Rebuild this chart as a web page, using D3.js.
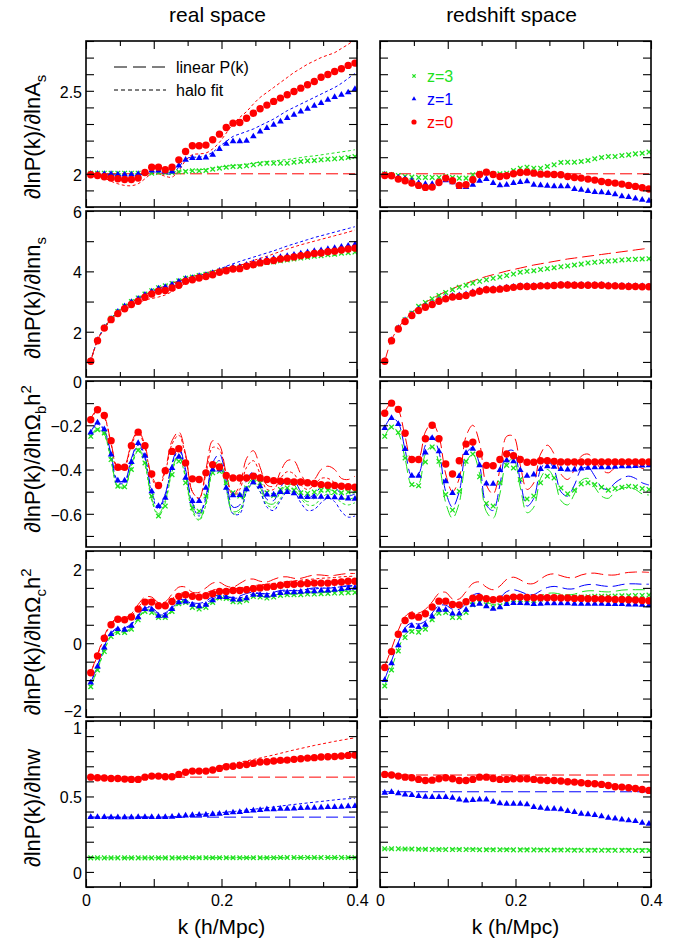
<!DOCTYPE html>
<html>
<head>
<meta charset="utf-8">
<script src="https://cdn.jsdelivr.net/npm/d3@7"></script>
<style>
  body { margin: 0; background: #fff; }
  svg { font-family: 'Liberation Sans', Arial, Helvetica, sans-serif; }
</style>
</head>
<body>
<svg id="chart" width="687" height="939"></svg>
<script>
// ---- data ----
const kPts = [
  0.007,0.017,0.027,0.037,0.047,0.057,0.067,0.077,0.087,0.097,
  0.107,0.117,0.127,0.137,0.147,0.157,0.167,0.177,0.187,0.197,
  0.207,0.217,0.227,0.237,0.247,0.257,0.267,0.277,0.287,0.297,
  0.307,0.317,0.327,0.337,0.347,0.357,0.367,0.377,0.387,0.397]
const kFlat = [0.003, 0.4]

// dlnP/dlnAs
const asRealZ0 = [
  1.994,1.990,1.982,1.974,1.970,1.966,1.966,1.974,2.008,2.040,
  2.040,2.024,2.040,2.084,2.134,2.169,2.169,2.173,2.205,2.239,
  2.279,2.305,2.309,2.335,2.365,2.392,2.414,2.436,2.456,2.476,
  2.496,2.516,2.536,2.556,2.582,2.598,2.616,2.633,2.653,2.667]
const asRealZ1 = [
  2.000,2.000,1.998,1.998,1.996,1.996,1.996,1.998,2.004,2.020,
  2.020,2.014,2.014,2.050,2.084,2.094,2.094,2.098,2.114,2.149,
  2.181,2.195,2.195,2.199,2.225,2.255,2.275,2.295,2.315,2.335,
  2.355,2.375,2.392,2.410,2.426,2.446,2.462,2.476,2.490,2.510]
const asRealZ3 = [
  2.004,2.004,2.004,2.004,2.004,2.004,2.004,2.004,2.004,2.004,
  2.008,2.008,2.008,2.012,2.014,2.018,2.018,2.020,2.028,2.034,
  2.040,2.044,2.044,2.048,2.054,2.060,2.064,2.064,2.064,2.064,
  2.070,2.074,2.078,2.080,2.084,2.088,2.090,2.094,2.098,2.104]
const asHaloZ0 = [
  2.000,1.990,1.975,1.955,1.940,1.930,1.928,1.940,1.970,2.000,
  2.000,1.985,1.980,2.020,2.080,2.115,2.120,2.125,2.150,2.190,
  2.245,2.300,2.340,2.375,2.420,2.460,2.490,2.520,2.550,2.580,
  2.610,2.635,2.660,2.680,2.700,2.715,2.730,2.755,2.780,2.810]
const asHaloZ1 = [
  2.000,2.000,1.998,1.995,1.992,1.990,1.990,1.993,2.000,2.010,
  2.010,2.000,2.000,2.040,2.090,2.100,2.100,2.110,2.130,2.165,
  2.195,2.225,2.240,2.255,2.270,2.290,2.310,2.330,2.355,2.380,
  2.400,2.420,2.440,2.460,2.480,2.500,2.520,2.545,2.575,2.605]
const asHaloZ3 = [
  2.000,2.000,2.000,2.000,2.000,2.000,2.000,2.000,2.000,2.002,
  2.006,2.008,2.010,2.014,2.018,2.022,2.024,2.028,2.034,2.040,
  2.046,2.050,2.054,2.058,2.064,2.070,2.074,2.078,2.082,2.086,
  2.092,2.098,2.104,2.108,2.114,2.120,2.126,2.132,2.138,2.145]
const asRedZ0 = [
  1.990,1.988,1.968,1.958,1.944,1.930,1.918,1.920,1.948,1.974,
  1.958,1.930,1.934,1.964,1.996,2.010,1.996,1.984,1.988,2.000,
  2.008,2.010,2.004,1.998,1.998,1.996,1.994,1.984,1.978,1.974,
  1.968,1.962,1.954,1.948,1.944,1.938,1.930,1.924,1.916,1.908]
const asRedZ1 = [
  1.996,1.990,1.978,1.968,1.958,1.944,1.938,1.938,1.948,1.960,
  1.948,1.920,1.920,1.934,1.958,1.968,1.944,1.930,1.934,1.944,
  1.950,1.954,1.934,1.930,1.928,1.924,1.924,1.924,1.908,1.904,
  1.896,1.890,1.888,1.884,1.876,1.864,1.860,1.851,1.843,1.837]
const asRedZ3 = [
  2.000,1.994,1.990,1.984,1.980,1.978,1.978,1.978,1.978,1.984,
  1.978,1.974,1.974,1.994,2.004,2.008,2.000,2.000,2.004,2.020,
  2.034,2.040,2.034,2.034,2.044,2.054,2.068,2.070,2.070,2.074,
  2.080,2.090,2.098,2.104,2.104,2.110,2.114,2.120,2.124,2.131]
const asLinear = [2, 2]

// dlnP/dlnns
const nsRealZ0 = [
  1.02,1.70,2.12,2.40,2.60,2.76,2.90,3.01,3.14,3.25,
  3.34,3.37,3.45,3.54,3.67,3.72,3.78,3.83,3.89,3.97,
  4.02,4.08,4.09,4.17,4.22,4.28,4.33,4.36,4.41,4.44,
  4.48,4.52,4.55,4.59,4.61,4.65,4.67,4.71,4.74,4.77]
const nsRealZ1 = [
  1.04,1.72,2.14,2.43,2.66,2.84,2.98,3.09,3.22,3.33,
  3.43,3.48,3.56,3.66,3.75,3.78,3.84,3.88,3.94,4.02,
  4.07,4.13,4.15,4.22,4.28,4.34,4.39,4.42,4.47,4.51,
  4.55,4.59,4.63,4.67,4.70,4.74,4.77,4.81,4.85,4.89]
const nsRealZ3 = [
  1.04,1.72,2.15,2.45,2.67,2.85,3.00,3.12,3.25,3.36,
  3.46,3.52,3.60,3.69,3.77,3.81,3.86,3.90,3.95,4.01,
  4.05,4.10,4.12,4.17,4.21,4.25,4.29,4.31,4.35,4.38,
  4.41,4.44,4.47,4.50,4.52,4.55,4.57,4.60,4.62,4.64]
const nsLinear = [
  1.02,1.73,2.12,2.42,2.64,2.82,2.97,3.10,3.22,3.33,
  3.43,3.52,3.60,3.68,3.76,3.83,3.89,3.95,4.01,4.06,
  4.11,4.16,4.21,4.25,4.29,4.33,4.37,4.41,4.44,4.47,
  4.50,4.53,4.56,4.59,4.62,4.65,4.68,4.71,4.74,4.77]
const nsHaloZ0 = [
  1.02,1.70,2.10,2.38,2.58,2.72,2.84,2.95,3.05,3.10,
  3.15,3.22,3.33,3.45,3.62,3.72,3.76,3.80,3.87,3.97,
  4.06,4.13,4.20,4.28,4.36,4.43,4.50,4.58,4.66,4.74,
  4.81,4.88,4.94,5.00,5.06,5.12,5.18,5.24,5.30,5.37]
const nsHaloZ1 = [
  1.04,1.72,2.14,2.43,2.66,2.84,2.98,3.10,3.22,3.33,
  3.42,3.48,3.56,3.65,3.74,3.80,3.86,3.92,3.99,4.07,
  4.17,4.25,4.33,4.40,4.47,4.54,4.61,4.68,4.76,4.84,
  4.91,4.98,5.05,5.12,5.18,5.24,5.30,5.36,5.42,5.48]
const nsHaloZ3 = [
  1.04,1.72,2.15,2.45,2.67,2.85,3.00,3.12,3.24,3.35,
  3.45,3.52,3.60,3.69,3.77,3.82,3.87,3.92,3.97,4.03,
  4.08,4.13,4.16,4.21,4.26,4.30,4.34,4.37,4.41,4.44,
  4.47,4.50,4.53,4.56,4.59,4.62,4.64,4.67,4.69,4.71]
const nsRedZ0 = [
  1.02,1.70,2.09,2.34,2.54,2.70,2.81,2.90,3.01,3.09,
  3.15,3.17,3.20,3.28,3.34,3.39,3.39,3.41,3.44,3.47,
  3.50,3.50,3.50,3.52,3.52,3.53,3.55,3.55,3.54,3.54,
  3.54,3.54,3.54,3.52,3.52,3.51,3.50,3.50,3.49,3.49]
const nsRedZ1 = [
  1.03,1.72,2.12,2.38,2.58,2.74,2.85,2.94,3.05,3.13,
  3.19,3.21,3.24,3.31,3.37,3.41,3.42,3.44,3.46,3.49,
  3.51,3.52,3.52,3.53,3.54,3.54,3.56,3.56,3.55,3.55,
  3.55,3.55,3.55,3.54,3.53,3.52,3.52,3.51,3.51,3.50]
const nsRedZ3 = [
  1.02,1.70,2.12,2.40,2.62,2.84,2.97,3.09,3.20,3.30,
  3.39,3.47,3.54,3.61,3.67,3.72,3.77,3.81,3.86,3.91,
  3.97,4.00,4.02,4.06,4.09,4.12,4.15,4.18,4.21,4.24,
  4.28,4.30,4.32,4.34,4.35,4.38,4.39,4.40,4.41,4.42]

// dlnP/dln(Omega_b h^2)
const obRealZ0 = [
  -0.175,-0.130,-0.156,-0.270,-0.390,-0.390,-0.292,-0.231,-0.292,-0.420,
  -0.472,-0.405,-0.318,-0.306,-0.370,-0.442,-0.445,-0.415,-0.378,-0.388,
  -0.427,-0.438,-0.438,-0.438,-0.430,-0.438,-0.445,-0.450,-0.453,-0.453,
  -0.456,-0.456,-0.460,-0.463,-0.468,-0.471,-0.472,-0.475,-0.478,-0.480]
const obRealZ1 = [
  -0.233,-0.188,-0.218,-0.333,-0.450,-0.450,-0.366,-0.280,-0.338,-0.498,
  -0.565,-0.528,-0.393,-0.343,-0.438,-0.543,-0.543,-0.483,-0.400,-0.400,
  -0.483,-0.517,-0.516,-0.490,-0.458,-0.476,-0.513,-0.513,-0.502,-0.502,
  -0.508,-0.523,-0.525,-0.523,-0.523,-0.525,-0.526,-0.528,-0.531,-0.532]
const obRealZ3 = [
  -0.250,-0.220,-0.235,-0.355,-0.475,-0.478,-0.400,-0.313,-0.370,-0.520,
  -0.610,-0.565,-0.423,-0.363,-0.460,-0.573,-0.588,-0.520,-0.415,-0.408,
  -0.460,-0.505,-0.520,-0.483,-0.445,-0.460,-0.505,-0.517,-0.490,-0.483,
  -0.493,-0.505,-0.508,-0.502,-0.493,-0.493,-0.502,-0.505,-0.502,-0.498]
const obRealLinZ0 = [
  -0.17,-0.13,-0.16,-0.28,-0.39,-0.38,-0.28,-0.225,-0.29,-0.43,
  -0.47,-0.40,-0.27,-0.23,-0.33,-0.50,-0.53,-0.40,-0.27,-0.29,
  -0.42,-0.515,-0.47,-0.35,-0.315,-0.39,-0.47,-0.475,-0.41,-0.36,
  -0.36,-0.42,-0.46,-0.445,-0.40,-0.385,-0.40,-0.44,-0.445,-0.43]
const obRealLinZ1 = [
  -0.23,-0.19,-0.22,-0.33,-0.45,-0.45,-0.35,-0.28,-0.34,-0.50,
  -0.57,-0.51,-0.37,-0.30,-0.40,-0.55,-0.60,-0.52,-0.37,-0.33,
  -0.45,-0.57,-0.56,-0.45,-0.41,-0.46,-0.535,-0.54,-0.48,-0.45,
  -0.45,-0.50,-0.53,-0.51,-0.48,-0.47,-0.48,-0.51,-0.52,-0.51]
const obRealLinZ3 = [
  -0.25,-0.215,-0.24,-0.355,-0.475,-0.475,-0.38,-0.305,-0.37,-0.53,
  -0.60,-0.54,-0.40,-0.33,-0.43,-0.58,-0.625,-0.55,-0.40,-0.36,
  -0.48,-0.59,-0.58,-0.48,-0.44,-0.48,-0.55,-0.555,-0.50,-0.47,
  -0.47,-0.52,-0.545,-0.53,-0.50,-0.49,-0.50,-0.525,-0.535,-0.525]
const obRealHaloZ0 = [
  -0.175,-0.135,-0.165,-0.285,-0.40,-0.39,-0.29,-0.235,-0.30,-0.44,
  -0.48,-0.41,-0.285,-0.245,-0.34,-0.50,-0.53,-0.42,-0.30,-0.31,
  -0.43,-0.52,-0.49,-0.39,-0.36,-0.42,-0.49,-0.49,-0.44,-0.41,
  -0.42,-0.47,-0.49,-0.47,-0.44,-0.44,-0.46,-0.49,-0.49,-0.48]
const obRealHaloZ1 = [
  -0.235,-0.195,-0.225,-0.34,-0.46,-0.46,-0.36,-0.29,-0.35,-0.51,
  -0.58,-0.52,-0.38,-0.31,-0.41,-0.56,-0.61,-0.53,-0.39,-0.36,
  -0.48,-0.60,-0.60,-0.50,-0.46,-0.50,-0.57,-0.585,-0.54,-0.50,
  -0.50,-0.55,-0.585,-0.58,-0.55,-0.53,-0.545,-0.59,-0.615,-0.61]
const obRealHaloZ3 = [
  -0.255,-0.22,-0.245,-0.36,-0.48,-0.48,-0.39,-0.315,-0.38,-0.54,
  -0.61,-0.55,-0.41,-0.34,-0.44,-0.59,-0.63,-0.56,-0.41,-0.38,
  -0.49,-0.60,-0.59,-0.50,-0.465,-0.50,-0.56,-0.57,-0.53,-0.49,
  -0.49,-0.53,-0.56,-0.56,-0.53,-0.51,-0.52,-0.55,-0.56,-0.55]
const obRedZ0 = [
  -0.146,-0.100,-0.128,-0.236,-0.355,-0.355,-0.261,-0.200,-0.261,-0.375,
  -0.420,-0.360,-0.285,-0.276,-0.330,-0.381,-0.383,-0.355,-0.330,-0.338,
  -0.355,-0.367,-0.367,-0.360,-0.360,-0.363,-0.366,-0.366,-0.366,-0.366,
  -0.366,-0.366,-0.366,-0.366,-0.366,-0.366,-0.366,-0.366,-0.366,-0.366]
const obRedZ1 = [
  -0.213,-0.168,-0.195,-0.308,-0.428,-0.428,-0.323,-0.258,-0.318,-0.453,
  -0.506,-0.430,-0.326,-0.306,-0.381,-0.463,-0.465,-0.403,-0.358,-0.363,
  -0.403,-0.428,-0.423,-0.398,-0.385,-0.388,-0.398,-0.400,-0.400,-0.396,
  -0.392,-0.390,-0.390,-0.390,-0.388,-0.385,-0.385,-0.384,-0.382,-0.381]
const obRedZ3 = [
  -0.250,-0.208,-0.233,-0.348,-0.468,-0.473,-0.366,-0.298,-0.363,-0.513,
  -0.583,-0.498,-0.363,-0.330,-0.433,-0.553,-0.565,-0.460,-0.381,-0.393,
  -0.445,-0.533,-0.520,-0.460,-0.430,-0.438,-0.483,-0.510,-0.493,-0.465,
  -0.460,-0.468,-0.480,-0.493,-0.486,-0.480,-0.476,-0.478,-0.486,-0.490]
const obRedLinZ0 = [
  -0.14,-0.10,-0.13,-0.25,-0.36,-0.35,-0.23,-0.19,-0.25,-0.42,
  -0.50,-0.44,-0.25,-0.20,-0.28,-0.47,-0.51,-0.40,-0.25,-0.25,
  -0.38,-0.49,-0.46,-0.33,-0.29,-0.33,-0.42,-0.445,-0.40,-0.34,
  -0.33,-0.36,-0.40,-0.415,-0.39,-0.365,-0.36,-0.375,-0.395,-0.40]
const obRedLinZ1 = [
  -0.21,-0.165,-0.19,-0.31,-0.43,-0.42,-0.29,-0.25,-0.32,-0.50,
  -0.57,-0.50,-0.33,-0.30,-0.38,-0.56,-0.585,-0.47,-0.32,-0.315,
  -0.45,-0.565,-0.53,-0.40,-0.36,-0.40,-0.50,-0.52,-0.47,-0.40,
  -0.39,-0.43,-0.48,-0.49,-0.46,-0.44,-0.43,-0.44,-0.46,-0.47]
const obRedLinZ3 = [
  -0.25,-0.205,-0.235,-0.35,-0.47,-0.465,-0.33,-0.295,-0.37,-0.55,
  -0.62,-0.55,-0.37,-0.33,-0.42,-0.59,-0.62,-0.51,-0.37,-0.355,
  -0.48,-0.595,-0.57,-0.44,-0.40,-0.44,-0.54,-0.56,-0.51,-0.45,
  -0.44,-0.48,-0.52,-0.53,-0.50,-0.485,-0.48,-0.49,-0.51,-0.515]

// dlnP/dln(Omega_c h^2)
const ocRealZ0 = [
  -0.80,-0.345,0.136,0.50,0.65,0.635,0.71,0.925,1.115,1.115,
  1.015,1.015,1.13,1.27,1.315,1.27,1.25,1.29,1.34,1.405,
  1.405,1.43,1.43,1.45,1.48,1.50,1.52,1.54,1.57,1.59,
  1.60,1.61,1.62,1.63,1.63,1.63,1.65,1.66,1.68,1.68]
const ocRealZ1 = [
  -1.07,-0.635,-0.12,0.245,0.38,0.36,0.47,0.70,0.925,0.91,
  0.745,0.745,0.925,1.105,1.13,1.04,1.00,1.04,1.16,1.25,
  1.25,1.18,1.18,1.22,1.31,1.31,1.29,1.31,1.36,1.38,
  1.38,1.39,1.405,1.405,1.43,1.43,1.45,1.47,1.49,1.50]
const ocRealZ3 = [
  -1.18,-0.725,-0.227,0.181,0.290,0.290,0.381,0.635,0.861,0.834,
  0.698,0.698,0.861,1.070,1.106,0.970,0.925,0.970,1.106,1.224,
  1.215,1.124,1.115,1.160,1.269,1.251,1.224,1.251,1.297,1.315,
  1.315,1.315,1.333,1.333,1.342,1.351,1.360,1.360,1.369,1.378]
const ocRealLinZ0 = [
  -0.80,-0.30,0.20,0.55,0.68,0.68,0.80,1.05,1.25,1.25,
  1.10,1.12,1.33,1.52,1.52,1.38,1.38,1.50,1.63,1.65,
  1.55,1.52,1.62,1.72,1.74,1.68,1.66,1.73,1.79,1.80,
  1.76,1.76,1.81,1.85,1.85,1.83,1.84,1.87,1.89,1.89]
const ocRealLinZ1 = [
  -1.07,-0.60,-0.08,0.28,0.42,0.42,0.53,0.76,0.98,0.97,
  0.82,0.82,1.00,1.17,1.18,1.10,1.08,1.14,1.26,1.30,
  1.27,1.24,1.28,1.35,1.38,1.35,1.34,1.38,1.43,1.44,
  1.42,1.43,1.47,1.50,1.50,1.49,1.51,1.54,1.56,1.56]
const ocRealLinZ3 = [
  -1.18,-0.70,-0.19,0.21,0.32,0.32,0.42,0.68,0.90,0.88,
  0.74,0.74,0.90,1.10,1.13,1.02,0.98,1.03,1.15,1.24,
  1.21,1.16,1.18,1.23,1.30,1.28,1.26,1.30,1.34,1.35,
  1.34,1.35,1.38,1.40,1.40,1.40,1.42,1.44,1.45,1.45]
const ocRealHaloZ0 = [
  -0.80,-0.33,0.16,0.52,0.66,0.65,0.74,0.97,1.16,1.16,
  1.05,1.06,1.20,1.34,1.36,1.30,1.30,1.36,1.44,1.47,
  1.45,1.47,1.50,1.53,1.56,1.58,1.60,1.62,1.65,1.67,
  1.69,1.71,1.73,1.74,1.76,1.77,1.78,1.80,1.81,1.82]
const ocRealHaloZ1 = [
  -1.07,-0.62,-0.10,0.26,0.40,0.39,0.50,0.73,0.95,0.94,
  0.78,0.78,0.96,1.13,1.15,1.07,1.04,1.09,1.20,1.27,
  1.26,1.22,1.23,1.28,1.34,1.35,1.34,1.36,1.40,1.42,
  1.43,1.44,1.46,1.47,1.49,1.50,1.51,1.53,1.54,1.55]
const ocRealHaloZ3 = [
  -1.18,-0.72,-0.21,0.19,0.30,0.30,0.39,0.65,0.87,0.85,
  0.71,0.71,0.87,1.08,1.11,0.99,0.95,0.99,1.12,1.23,
  1.22,1.14,1.13,1.18,1.28,1.27,1.25,1.27,1.31,1.33,
  1.33,1.34,1.35,1.36,1.37,1.38,1.39,1.40,1.41,1.42]
const ocRedZ0 = [
  -0.66,-0.227,0.245,0.617,0.743,0.707,0.80,0.98,1.14,1.14,
  1.05,1.04,1.124,1.22,1.24,1.206,1.18,1.197,1.22,1.25,
  1.25,1.24,1.233,1.233,1.233,1.233,1.224,1.224,1.215,1.215,
  1.206,1.206,1.197,1.197,1.188,1.188,1.179,1.170,1.160,1.151]
const ocRedZ1 = [
  -1.00,-0.544,-0.054,0.345,0.47,0.435,0.50,0.725,0.907,0.907,
  0.80,0.80,0.907,1.04,1.07,1.00,0.935,0.97,1.06,1.09,
  1.09,1.08,1.06,1.07,1.08,1.08,1.08,1.08,1.07,1.07,
  1.07,1.07,1.07,1.06,1.06,1.06,1.05,1.05,1.04,1.03]
const ocRedZ3 = [
  -1.16,-0.725,-0.21,0.154,0.317,0.30,0.38,0.635,0.816,0.834,
  0.70,0.70,0.834,1.04,1.106,1.04,0.97,1.015,1.133,1.18,
  1.18,1.18,1.16,1.197,1.224,1.242,1.251,1.251,1.251,1.251,
  1.26,1.27,1.27,1.27,1.278,1.287,1.287,1.296,1.296,1.305]
const ocRedLinZ0 = [
  -0.62,-0.15,0.35,0.72,0.85,0.82,0.92,1.12,1.35,1.38,
  1.20,1.20,1.40,1.62,1.66,1.52,1.45,1.55,1.73,1.79,
  1.72,1.62,1.62,1.74,1.85,1.88,1.83,1.78,1.78,1.85,
  1.89,1.90,1.87,1.85,1.85,1.89,1.92,1.93,1.93,1.92]
const ocRedLinZ1 = [
  -0.98,-0.48,0.02,0.42,0.55,0.52,0.60,0.82,1.02,1.03,
  0.92,0.92,1.08,1.30,1.35,1.25,1.16,1.24,1.40,1.45,
  1.40,1.33,1.32,1.42,1.51,1.54,1.51,1.47,1.48,1.55,
  1.59,1.59,1.56,1.54,1.55,1.59,1.61,1.61,1.60,1.60]
const ocRedLinZ3 = [
  -1.14,-0.68,-0.16,0.23,0.37,0.35,0.44,0.68,0.88,0.90,
  0.78,0.77,0.92,1.14,1.20,1.12,1.05,1.10,1.24,1.30,
  1.27,1.22,1.22,1.29,1.35,1.36,1.33,1.31,1.33,1.39,
  1.42,1.42,1.40,1.39,1.41,1.44,1.45,1.45,1.45,1.45]

// dlnP/dlnw
const wRealZ0 = [
  0.628,0.624,0.622,0.619,0.619,0.615,0.613,0.613,0.628,0.635,
  0.635,0.631,0.631,0.646,0.660,0.668,0.668,0.668,0.675,0.686,
  0.697,0.700,0.706,0.712,0.719,0.728,0.730,0.735,0.739,0.741,
  0.746,0.750,0.754,0.757,0.761,0.763,0.765,0.768,0.772,0.774]
const wRealZ1 = [
  0.363,0.363,0.363,0.362,0.362,0.362,0.362,0.363,0.363,0.363,
  0.363,0.364,0.365,0.370,0.374,0.376,0.378,0.378,0.383,0.385,
  0.389,0.394,0.396,0.403,0.407,0.409,0.414,0.414,0.418,0.418,
  0.420,0.423,0.425,0.425,0.427,0.429,0.429,0.431,0.434,0.436]
const wRealZ3 = [
  0.093,0.093,0.093,0.093,0.093,0.093,0.093,0.093,0.093,0.093,
  0.093,0.093,0.093,0.093,0.094,0.094,0.094,0.094,0.094,0.094,
  0.094,0.094,0.094,0.094,0.094,0.094,0.094,0.094,0.095,0.095,
  0.095,0.095,0.095,0.095,0.095,0.095,0.095,0.095,0.095,0.095]
const wRealLinZ0 = [0.628, 0.628]
const wRealLinZ1 = [0.363, 0.363]
const wRealLinZ3 = [0.093, 0.093]
const wRealHaloZ0 = [
  0.628,0.626,0.624,0.621,0.620,0.617,0.615,0.615,0.626,0.633,
  0.634,0.632,0.633,0.645,0.660,0.668,0.670,0.673,0.683,0.697,
  0.710,0.720,0.728,0.736,0.745,0.755,0.765,0.775,0.786,0.797,
  0.808,0.818,0.828,0.838,0.847,0.856,0.865,0.873,0.881,0.889]
const wRealHaloZ1 = [
  0.363,0.363,0.363,0.362,0.362,0.362,0.362,0.363,0.363,0.363,
  0.363,0.364,0.365,0.368,0.373,0.377,0.381,0.384,0.388,0.392,
  0.396,0.400,0.405,0.410,0.415,0.420,0.425,0.430,0.436,0.442,
  0.447,0.452,0.457,0.462,0.467,0.472,0.477,0.482,0.485,0.487]
const wRealHaloZ3 = [0.093, 0.096]
const wRedZ0 = [
  0.646,0.642,0.635,0.628,0.624,0.613,0.606,0.608,0.617,0.624,
  0.617,0.606,0.606,0.613,0.628,0.628,0.619,0.613,0.613,0.617,
  0.617,0.617,0.613,0.608,0.606,0.606,0.602,0.597,0.595,0.591,
  0.586,0.584,0.580,0.573,0.564,0.562,0.558,0.553,0.546,0.540]
const wRedZ1 = [
  0.524,0.529,0.520,0.513,0.509,0.502,0.498,0.496,0.496,0.496,
  0.491,0.480,0.473,0.476,0.480,0.480,0.465,0.454,0.451,0.451,
  0.451,0.447,0.429,0.425,0.418,0.418,0.414,0.403,0.396,0.385,
  0.381,0.376,0.369,0.358,0.354,0.347,0.341,0.336,0.325,0.319]
const wRedZ3 = [
  0.153,0.153,0.153,0.152,0.152,0.150,0.150,0.149,0.149,0.148,
  0.148,0.148,0.148,0.148,0.147,0.147,0.147,0.147,0.147,0.146,
  0.146,0.146,0.146,0.145,0.145,0.145,0.145,0.145,0.144,0.144,
  0.144,0.144,0.144,0.143,0.143,0.143,0.143,0.142,0.142,0.142]
const wRedLinZ0 = [0.642, 0.642]
const wRedLinZ1 = [0.531, 0.531]
const wRedLinZ3 = [0.152, 0.152]

// axis setup per row
const rowDomains = [[1.8, 2.8], [0.5, 6], [-0.75, 0], [-2, 2.5], [-0.1, 1]]
const rowTickCounts = [10, 6, 8, 9, 11]
const rowLabels = [[2, 2.5], [2, 4, 6], [0, -0.2, -0.4, -0.6], [-2, 0, 2], [0, 0.5, 1]]
const xLabels = [0, 0.2, 0.4]
const colTitles = ['real space', 'redshift space']
const zNames = ['z=3', 'z=1', 'z=0']

// ---- layout ----
const colX = [86, 380], panelW = 271
const rowTop = 41, rowStep = 170, panelH = 166
const zColors = ['#1ee21e', '#0000ff', '#ff0000']
const dashLong = '12,5', dashShort = '3,2.5'
const titleCenters = [137, 298, 459, 642, 808]

// y-axis titles: [text, 0 normal | 1 sub | 2 sup]
const rowTitles = [
  [['∂lnP(k)/∂lnA', 0], ['s', 1]],
  [['∂lnP(k)/∂lnn', 0], ['s', 1]],
  [['∂lnP(k)/∂lnΩ', 0], ['b', 1], ['h', 0], ['2', 2]],
  [['∂lnP(k)/∂lnΩ', 0], ['c', 1], ['h', 0], ['2', 2]],
  [['∂lnP(k)/∂lnw', 0]]
]

const pair = (k, v) => ({ k, v })
const panels = [
  { row: 0, col: 0, points: [asRealZ3, asRealZ1, asRealZ0],
    dashed: [pair(kFlat, asLinear), pair(kFlat, asLinear), pair(kFlat, asLinear)],
    dotted: [pair(kPts, asHaloZ3), pair(kPts, asHaloZ1), pair(kPts, asHaloZ0)] },
  { row: 0, col: 1, points: [asRedZ3, asRedZ1, asRedZ0],
    dashed: [pair(kFlat, asLinear), pair(kFlat, asLinear), pair(kFlat, asLinear)], dotted: [] },
  { row: 1, col: 0, points: [nsRealZ3, nsRealZ1, nsRealZ0],
    dashed: [pair(kPts, nsLinear), pair(kPts, nsLinear), pair(kPts, nsLinear)],
    dotted: [pair(kPts, nsHaloZ3), pair(kPts, nsHaloZ1), pair(kPts, nsHaloZ0)] },
  { row: 1, col: 1, points: [nsRedZ3, nsRedZ1, nsRedZ0],
    dashed: [pair(kPts, nsLinear), pair(kPts, nsLinear), pair(kPts, nsLinear)], dotted: [] },
  { row: 2, col: 0, points: [obRealZ3, obRealZ1, obRealZ0],
    dashed: [pair(kPts, obRealLinZ3), pair(kPts, obRealLinZ1), pair(kPts, obRealLinZ0)],
    dotted: [pair(kPts, obRealHaloZ3), pair(kPts, obRealHaloZ1), pair(kPts, obRealHaloZ0)] },
  { row: 2, col: 1, points: [obRedZ3, obRedZ1, obRedZ0],
    dashed: [pair(kPts, obRedLinZ3), pair(kPts, obRedLinZ1), pair(kPts, obRedLinZ0)], dotted: [] },
  { row: 3, col: 0, points: [ocRealZ3, ocRealZ1, ocRealZ0],
    dashed: [pair(kPts, ocRealLinZ3), pair(kPts, ocRealLinZ1), pair(kPts, ocRealLinZ0)],
    dotted: [pair(kPts, ocRealHaloZ3), pair(kPts, ocRealHaloZ1), pair(kPts, ocRealHaloZ0)] },
  { row: 3, col: 1, points: [ocRedZ3, ocRedZ1, ocRedZ0],
    dashed: [pair(kPts, ocRedLinZ3), pair(kPts, ocRedLinZ1), pair(kPts, ocRedLinZ0)], dotted: [] },
  { row: 4, col: 0, points: [wRealZ3, wRealZ1, wRealZ0],
    dashed: [pair(kFlat, wRealLinZ3), pair(kFlat, wRealLinZ1), pair(kFlat, wRealLinZ0)],
    dotted: [pair(kFlat, wRealHaloZ3), pair(kPts, wRealHaloZ1), pair(kPts, wRealHaloZ0)] },
  { row: 4, col: 1, points: [wRedZ3, wRedZ1, wRedZ0],
    dashed: [pair(kFlat, wRedLinZ3), pair(kFlat, wRedLinZ1), pair(kFlat, wRedLinZ0)], dotted: [] }
]

const svg = d3.select('#chart')
svg.append('rect').attr('width', 687).attr('height', 939).attr('fill', '#fff')

const fmt = d => String(d).replace('-', '\u2212')

// marker drawers: 0 = x, 1 = triangle, 2 = circle
function marker(sel, type, color, scale) {
  if (type === 0) {
    const h = 2.3 * scale
    sel.append('path')
      .attr('d', `M${-h},${-h}L${h},${h}M${-h},${h}L${h},${-h}`)
      .attr('stroke', color).attr('stroke-width', 1.3).attr('fill', 'none')
  } else if (type === 1) {
    sel.append('path')
      .attr('d', d3.symbol(d3.symbolTriangle, 19 * scale * scale)())
      .attr('fill', color)
  } else {
    sel.append('circle').attr('r', 3.7 * scale).attr('fill', color)
  }
}

panels.forEach((p, pi) => {
  const left = colX[p.col], top = rowTop + p.row * rowStep
  const x = d3.scaleLinear().domain([0, 0.4]).range([0, panelW])
  const y = d3.scaleLinear().domain(rowDomains[p.row]).range([panelH, 0])
  const g = svg.append('g').attr('transform', `translate(${left},${top})`)

  g.append('clipPath').attr('id', 'clip' + pi)
    .append('rect').attr('width', panelW).attr('height', panelH)
  const plot = g.append('g').attr('clip-path', `url(#clip${pi})`)

  const line = d3.line()
    .x(d => x(d[0])).y(d => y(d[1]))
    .curve(d3.curveCatmullRom.alpha(0.5))

  // a curve shared by several z is drawn once, in the colour that lies on top
  const drawSet = (set, dash) => set.forEach((s, i) => {
    if (set.slice(i + 1).some(o => o.v === s.v)) return
    plot.append('path')
      .datum(d3.zip(s.k, s.v))
      .attr('d', line)
      .attr('fill', 'none')
      .attr('stroke', zColors[i])
      .attr('stroke-width', 1)
      .attr('stroke-dasharray', dash)
  })
  //halo fit lines, then linear lines
  drawSet(p.dotted, dashShort)
  drawSet(p.dashed, dashLong)

  //points
  p.points.forEach((vals, i) => {
    plot.append('g').selectAll('g')
      .data(d3.zip(kPts, vals))
      .join('g')
      .attr('transform', d => `translate(${x(d[0])},${y(d[1])})`)
      .each(function () { marker(d3.select(this), i, zColors[i], 1) })
  })

  //ticks on all sides, pointing in
  const yTicks = y.ticks(rowTickCounts[p.row])
  const xMajor = x.ticks(4), xMinor = x.ticks(8).filter(v => !xMajor.some(m => Math.abs(m - v) < 1e-9))
  const tickGroups = [
    [d3.axisLeft(y).tickValues(yTicks).tickSize(-8), 0, 0],
    [d3.axisRight(y).tickValues(yTicks).tickSize(-8), panelW, 0],
    [d3.axisBottom(x).tickValues(xMajor).tickSize(-8), 0, panelH],
    [d3.axisBottom(x).tickValues(xMinor).tickSize(-5), 0, panelH],
    [d3.axisTop(x).tickValues(xMajor).tickSize(-8), 0, 0],
    [d3.axisTop(x).tickValues(xMinor).tickSize(-5), 0, 0]
  ]
  tickGroups.forEach(([ax, tx, ty]) => {
    const a = g.append('g').attr('transform', `translate(${tx},${ty})`)
      .call(ax.tickFormat(''))
    a.select('.domain').remove()
    a.selectAll('line').attr('stroke', '#000').attr('stroke-width', 1.1)
  })

  //labels; the two sitting on the shared edge of rows 4 and 5 are nudged apart
  if (p.col === 0) {
    const a = g.append('g')
      .call(d3.axisLeft(y).tickValues(rowLabels[p.row]).tickSize(0).tickPadding(4).tickFormat(fmt))
    a.select('.domain').remove()
    a.selectAll('text').attr('font-size', 16).attr('font-family', null).attr('fill', '#000')
      .attr('dy', d => {
        const [lo, hi] = rowDomains[p.row]
        if (d === hi && p.row === 4) return '0.8em'
        if (d === lo && p.row === 3) return '-0.05em'
        return '0.4em'
      })
  }
  if (p.row === 4) {
    const a = g.append('g').attr('transform', `translate(0,${panelH})`)
      .call(d3.axisBottom(x).tickValues(xLabels).tickSize(0).tickPadding(8).tickFormat(d => String(d)))
    a.select('.domain').remove()
    a.selectAll('text').attr('font-size', 16).attr('font-family', null).attr('fill', '#000')
  }

  //frame
  g.append('rect')
    .attr('width', panelW).attr('height', panelH)
    .attr('fill', 'none').attr('stroke', '#000').attr('stroke-width', 1.6)
})

// column titles and x axis titles
colTitles.forEach((t, c) => {
  svg.append('text')
    .attr('x', colX[c] + panelW / 2 - 4).attr('y', 22)
    .attr('text-anchor', 'middle').attr('font-size', 21)
    .text(t)
  svg.append('text')
    .attr('x', colX[c] + panelW / 2).attr('y', 934)
    .attr('text-anchor', 'middle').attr('font-size', 21)
    .text('k (h/Mpc)')
})

// y axis titles
rowTitles.forEach((parts, r) => {
  const cy = titleCenters[r], tx = 40
  const t = svg.append('text')
    .attr('x', tx).attr('y', cy)
    .attr('transform', `rotate(-90,${tx},${cy})`)
    .attr('text-anchor', 'middle').attr('font-size', 22)
  let shift = 0
  parts.forEach(([s, mode]) => {
    const target = mode === 1 ? 6 : mode === 2 ? -9 : 0
    t.append('tspan')
      .attr('dy', target - shift)
      .attr('font-size', mode ? 15 : 22)
      .text(s)
    shift = target
  })
})

// legend: line styles (top left panel)
const lgA = svg.append('g')
;[['linear P(k)', '13,6', 67], ['halo fit', '4,3', 90]].forEach(([label, dash, ly]) => {
  lgA.append('line')
    .attr('x1', 114).attr('x2', 166).attr('y1', ly).attr('y2', ly)
    .attr('stroke', '#000').attr('stroke-width', 1).attr('stroke-dasharray', dash)
  lgA.append('text').attr('x', 176).attr('y', ly + 6)
    .attr('font-size', 16).text(label)
})

// legend: redshifts (top right panel)
const lgB = svg.append('g')
zNames.forEach((name, i) => {
  const ly = 76 + i * 23
  const m = lgB.append('g').attr('transform', `translate(414,${ly})`)
  marker(m, i, zColors[i], 0.7)
  lgB.append('text').attr('x', 427).attr('y', ly + 6)
    .attr('font-size', 16).attr('fill', zColors[i]).text(name)
})
</script>
</body>
</html>
